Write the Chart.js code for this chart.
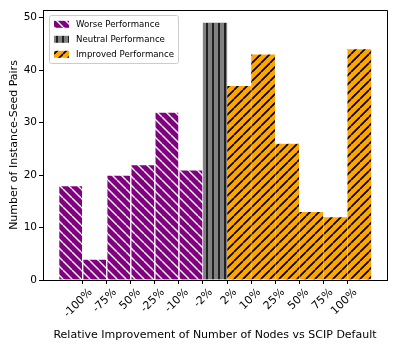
<!DOCTYPE html>
<html>
<head>
<meta charset="utf-8">
<script src="https://cdn.jsdelivr.net/npm/chart.js@4.4.1/dist/chart.umd.min.js"></script>
<style>
  html, body { margin: 0; padding: 0; background: #fff; }
  #wrap { width: 399px; height: 354px; }
</style>
</head>
<body>
<div id="wrap"><canvas id="chart" width="399" height="354"></canvas></div>
<script>
// bin edge labels (between bars)
const tickLabels = ['-100%', '-75%', '50%', '-25%', '-10%', '-2%', '2%', '10%', '25%', '50%', '75%', '100%'];

// counts per bin, left to right
const worseCounts = [18, 4, 20, 22, 32, 21];
const neutralCounts = [49];
const improvedCounts = [37, 43, 26, 13, 12, 44];

const seriesNames = ['Worse Performance', 'Neutral Performance', 'Improved Performance'];

const FONT = "'DejaVu Sans', sans-serif";

// hatch pattern helper
function makeHatch(bg, fg, kind, size, lw) {
  const c = document.createElement('canvas');
  c.width = size; c.height = size;
  const g = c.getContext('2d');
  g.fillStyle = bg;
  g.fillRect(0, 0, size, size);
  g.strokeStyle = fg;
  g.lineWidth = lw;
  g.beginPath();
  if (kind === '|') {
    g.moveTo(size / 2, 0); g.lineTo(size / 2, size);
  } else {
    for (let k = -1; k <= 1; k++) {
      if (kind === '/') { g.moveTo(k * size, size); g.lineTo(k * size + size, 0); }
      else { g.moveTo(k * size, 0); g.lineTo(k * size + size, size); }
    }
  }
  g.stroke();
  return g.createPattern(c, 'repeat');
}

const worseFill = makeHatch('#800080', '#ffffff', '\\', 9, 1.4);
const neutralFill = makeHatch('#808080', '#000000', '|', 6, 1.5);
const improvedFill = makeHatch('#ffa500', '#000000', '/', 9, 1.7);

// bars sit between integer edges; bar i centred on i + 0.5
const toPoints = (arr, offset) => arr.map((v, i) => ({ x: offset + i + 0.5, y: v }));

const frameAndLegend = {
  id: 'frameAndLegend',
  afterDraw(chart) {
    const { ctx, chartArea: a } = chart;
    ctx.save();
    // top and right spines
    ctx.strokeStyle = '#000';
    ctx.lineWidth = 1;
    ctx.beginPath();
    ctx.moveTo(a.left, a.top + 0.5); ctx.lineTo(a.right + 0.5, a.top + 0.5);
    ctx.lineTo(a.right + 0.5, a.bottom);
    ctx.stroke();

    // legend box
    const bx = 49.5, by = 15.5, bw = 129, bh = 48;
    ctx.fillStyle = 'rgba(255,255,255,0.8)';
    ctx.strokeStyle = '#cccccc';
    ctx.beginPath();
    ctx.roundRect(bx, by, bw, bh, 2);
    ctx.fill();
    ctx.stroke();

    const fills = [worseFill, neutralFill, improvedFill];
    const rows = [24.3, 39.3, 54.3];
    ctx.font = '8.6px ' + FONT;
    ctx.textBaseline = 'middle';
    ctx.textAlign = 'left';
    seriesNames.forEach((name, i) => {
      ctx.fillStyle = fills[i];
      ctx.fillRect(54, rows[i] - 3.5, 15, 7);
      ctx.fillStyle = '#000';
      ctx.fillText(name, 76, rows[i]);
    });
    ctx.restore();
  }
};

new Chart(document.getElementById('chart'), {
  type: 'bar',
  data: {
    datasets: [
      {
        label: seriesNames[0],
        data: toPoints(worseCounts, 0),
        backgroundColor: worseFill,
        borderColor: '#ffffff',
        borderWidth: 1
      },
      {
        label: seriesNames[1],
        data: toPoints(neutralCounts, worseCounts.length),
        backgroundColor: neutralFill,
        borderColor: '#666666',
        borderWidth: 0.5
      },
      {
        label: seriesNames[2],
        data: toPoints(improvedCounts, worseCounts.length + neutralCounts.length),
        backgroundColor: improvedFill,
        borderColor: 'rgba(255,255,255,0.6)',
        borderWidth: 0.5
      }
    ]
  },
  options: {
    responsive: false,
    devicePixelRatio: 1,
    animation: false,
    grouped: false,
    barPercentage: 1,
    categoryPercentage: 1,
    layout: { padding: { top: 10, right: 12, left: 8, bottom: 0 } },
    plugins: { legend: { display: false }, tooltip: { enabled: false } },
    scales: {
      x: {
        type: 'linear',
        offset: false,
        min: -0.65,
        max: 13.65,
        afterBuildTicks: (scale) => {
          scale.ticks = tickLabels.map((_, i) => ({ value: i + 1 }));
        },
        afterFit: (scale) => { scale.height = 74; },
        grid: { display: true, offset: false, drawOnChartArea: false, tickLength: 4, color: '#000', tickWidth: 1 },
        border: { display: true, color: '#000', width: 1 },
        ticks: {
          autoSkip: false,
          minRotation: 45,
          maxRotation: 45,
          padding: 2,
          labelOffset: 8,
          color: '#000',
          font: { family: FONT, size: 11 },
          callback: (v, i) => tickLabels[i]
        },
        title: {
          display: true,
          text: 'Relative Improvement of Number of Nodes vs SCIP Default',
          color: '#000',
          font: { family: FONT, size: 11 },
          padding: { top: 4, bottom: 12 }
        }
      },
      y: {
        min: 0,
        max: 51.45,
        afterBuildTicks: (scale) => {
          scale.ticks = [0, 10, 20, 30, 40, 50].map(v => ({ value: v }));
        },
        afterFit: (scale) => { scale.width = 35; },
        grid: { display: true, drawOnChartArea: false, tickLength: 4, color: '#000', tickWidth: 1 },
        border: { display: true, color: '#000', width: 1 },
        ticks: {
          padding: 2,
          color: '#000',
          font: { family: FONT, size: 10.5 }
        },
        title: {
          display: true,
          text: 'Number of Instance-Seed Pairs',
          color: '#000',
          font: { family: FONT, size: 11 },
          padding: { top: 0, bottom: 2 }
        }
      }
    }
  },
  plugins: [frameAndLegend]
});
</script>
</body>
</html>
